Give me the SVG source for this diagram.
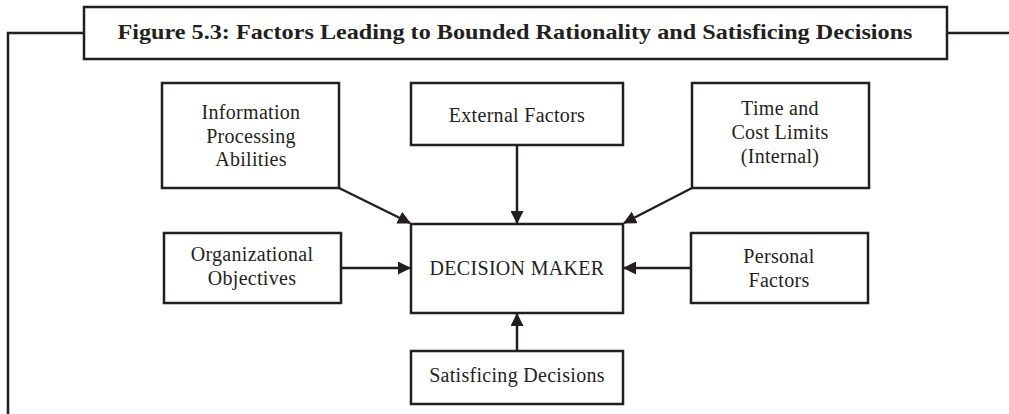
<svg xmlns="http://www.w3.org/2000/svg" width="1009" height="414" viewBox="0 0 1009 414">
<style>
.box{fill:#fff;stroke:#231f20;stroke-width:2.5}
.t{font-family:"Liberation Serif",serif;font-size:20px;letter-spacing:0.3px;fill:#231f20;text-anchor:middle}
.title{font-family:"Liberation Serif",serif;font-size:21px;font-weight:bold;fill:#231f20;text-anchor:middle}
.c{stroke:#231f20;stroke-width:2.5;fill:none;marker-end:url(#ah)}
.frame{stroke:#231f20;stroke-width:2.5;fill:none}
</style>
<defs>
<marker id="ah" markerWidth="13" markerHeight="13" refX="12" refY="6.5" orient="auto" markerUnits="userSpaceOnUse" viewBox="0 0 13 13">
<path d="M0,0 L13,6.5 L0,13 Z" fill="#231f20"/>
</marker>
</defs>
<rect width="1009" height="414" fill="#fff"/>
<g id="frame">
<path class="frame" d="M8,414 V33 H84 M947,33 H1009"/>
</g>
<g id="title">
<rect class="box" x="84" y="7" width="863" height="52"/>
<text class="title" x="515" y="39" textLength="795" lengthAdjust="spacingAndGlyphs">Figure 5.3: Factors Leading to Bounded Rationality and Satisficing Decisions</text>
</g>
<g id="connectors">
<line class="c" x1="339" y1="188" x2="410" y2="223"/>
<line class="c" x1="517" y1="145" x2="517" y2="223"/>
<line class="c" x1="692" y1="188" x2="624" y2="223"/>
<line class="c" x1="341" y1="268" x2="410" y2="268"/>
<line class="c" x1="691" y1="268" x2="624" y2="268"/>
<line class="c" x1="517" y1="351" x2="517" y2="314"/>
</g>
<g id="info">
<rect class="box" x="162" y="83" width="177" height="105"/>
<text class="t" x="251" y="119">Information</text>
<text class="t" x="251" y="143">Processing</text>
<text class="t" x="251" y="166">Abilities</text>
</g>
<g id="external">
<rect class="box" x="411" y="83" width="212" height="62"/>
<text class="t" x="517" y="122">External Factors</text>
</g>
<g id="time">
<rect class="box" x="692" y="83" width="177" height="105"/>
<text class="t" x="780" y="115">Time and</text>
<text class="t" x="780" y="139">Cost Limits</text>
<text class="t" x="780" y="163">(Internal)</text>
</g>
<g id="org">
<rect class="box" x="164" y="233" width="177" height="70"/>
<text class="t" x="252" y="261">Organizational</text>
<text class="t" x="252" y="285">Objectives</text>
</g>
<g id="dm">
<rect class="box" x="411" y="224" width="212" height="89"/>
<text class="t" x="517" y="275">DECISION MAKER</text>
</g>
<g id="personal">
<rect class="box" x="691" y="233" width="177" height="70"/>
<text class="t" x="779" y="263">Personal</text>
<text class="t" x="779" y="287">Factors</text>
</g>
<g id="satisficing">
<rect class="box" x="411" y="351" width="212" height="53"/>
<text class="t" x="517" y="382">Satisficing Decisions</text>
</g>
</svg>
